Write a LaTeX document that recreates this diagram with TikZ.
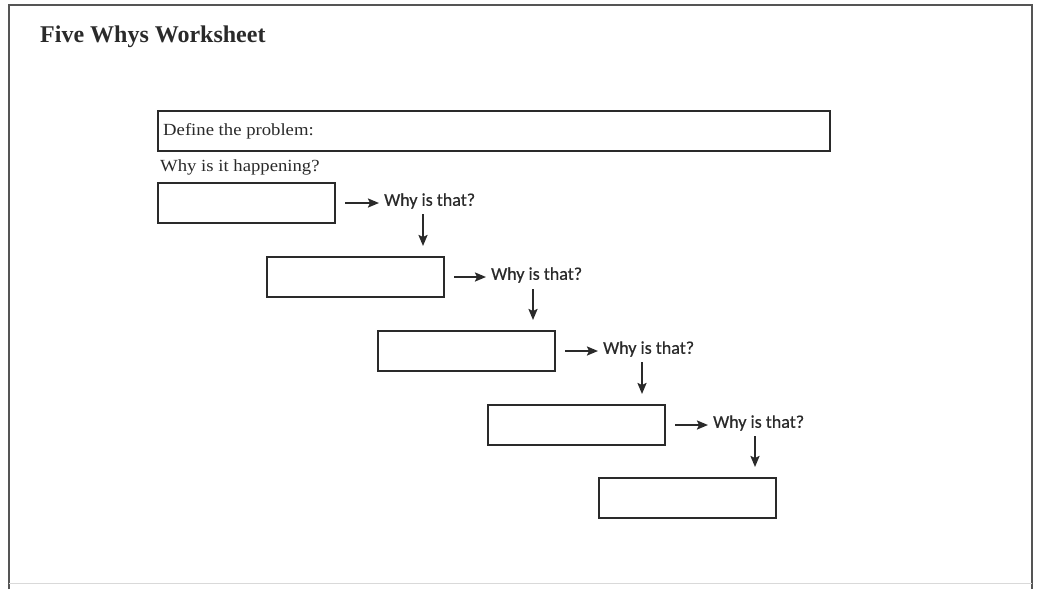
\documentclass[tikz,border=0pt]{standalone}
\usepackage{fontspec}
\setmainfont{Liberation Serif}
\newfontfamily\formfont[FakeStretch=1.1]{Liberation Serif}
\newfontfamily\whyfont[FakeBold=0.6]{Carlito}
\usetikzlibrary{arrows.meta}
\definecolor{ink}{HTML}{2A2A2A}
\definecolor{frameink}{HTML}{555555}
\begin{document}
\begin{tikzpicture}[x=1pt,y=-1pt,
  answerbox/.style={draw=ink,line width=2pt,minimum width=177pt,minimum height=40pt,inner sep=0pt},
  whylabel/.style={anchor=west,inner sep=0pt,font=\whyfont\fontsize{18}{20}\selectfont,text=ink},
  formtext/.style={anchor=west,inner sep=0pt,font=\formfont\fontsize{17}{19}\selectfont,text=ink},
  flow/.style={draw=ink,line width=2pt,-{Stealth[length=11pt,width=9pt,inset=2pt]}}]
\useasboundingbox (0,0) rectangle (1038,589);
\fill[white] (0,0) rectangle (1038,589);
% page frame
\draw[frameink,line width=2pt] (9,589) -- (9,5) -- (1032,5) -- (1032,589);
\draw[black!15,line width=1pt] (9,583) -- (1032,583);
% title
\node[anchor=west,inner sep=0pt,font=\bfseries\fontsize{24}{26}\selectfont,text=ink] (title) at (40,37) {Five Whys Worksheet};
% problem statement
\node[draw=ink,line width=2pt,anchor=north west,minimum width=672pt,minimum height=40pt,inner sep=0pt] (problem) at (157,110) {};
\node[formtext] (define) at (163,131) {Define the problem:};
\node[formtext] (happen) at (160,167) {Why is it happening?};
% answer boxes
\node[answerbox,anchor=north west] (b1) at (157,182) {};
\node[answerbox,anchor=north west] (b2) at (266,256) {};
\node[answerbox,anchor=north west] (b3) at (377,330) {};
\node[answerbox,anchor=north west] (b4) at (487,404) {};
\node[answerbox,anchor=north west] (b5) at (598,477) {};
% "why" prompts
\node[whylabel] (w1) at (384,201) {Why is that?};
\node[whylabel] (w2) at (491,275) {Why is that?};
\node[whylabel] (w3) at (603,349) {Why is that?};
\node[whylabel] (w4) at (713,423) {Why is that?};
% horizontal arrows from each box to its prompt
\foreach \b/\w in {b1/w1,b2/w2,b3/w3,b4/w4}{
  \draw[flow] ([xshift=9pt]\b.east) -- ([xshift=-5pt]\w.west |- \b.east);
}
% vertical arrows from each prompt down to the next box
\coordinate (d1) at (423,214);
\coordinate (d2) at (533,289);
\coordinate (d3) at (642,362);
\coordinate (d4) at (755,436);
\draw[flow] (d1) -- ([yshift=10pt]d1 |- b2.north);
\draw[flow] (d2) -- ([yshift=10pt]d2 |- b3.north);
\draw[flow] (d3) -- ([yshift=10pt]d3 |- b4.north);
\draw[flow] (d4) -- ([yshift=10pt]d4 |- b5.north);
\end{tikzpicture}
\end{document}
